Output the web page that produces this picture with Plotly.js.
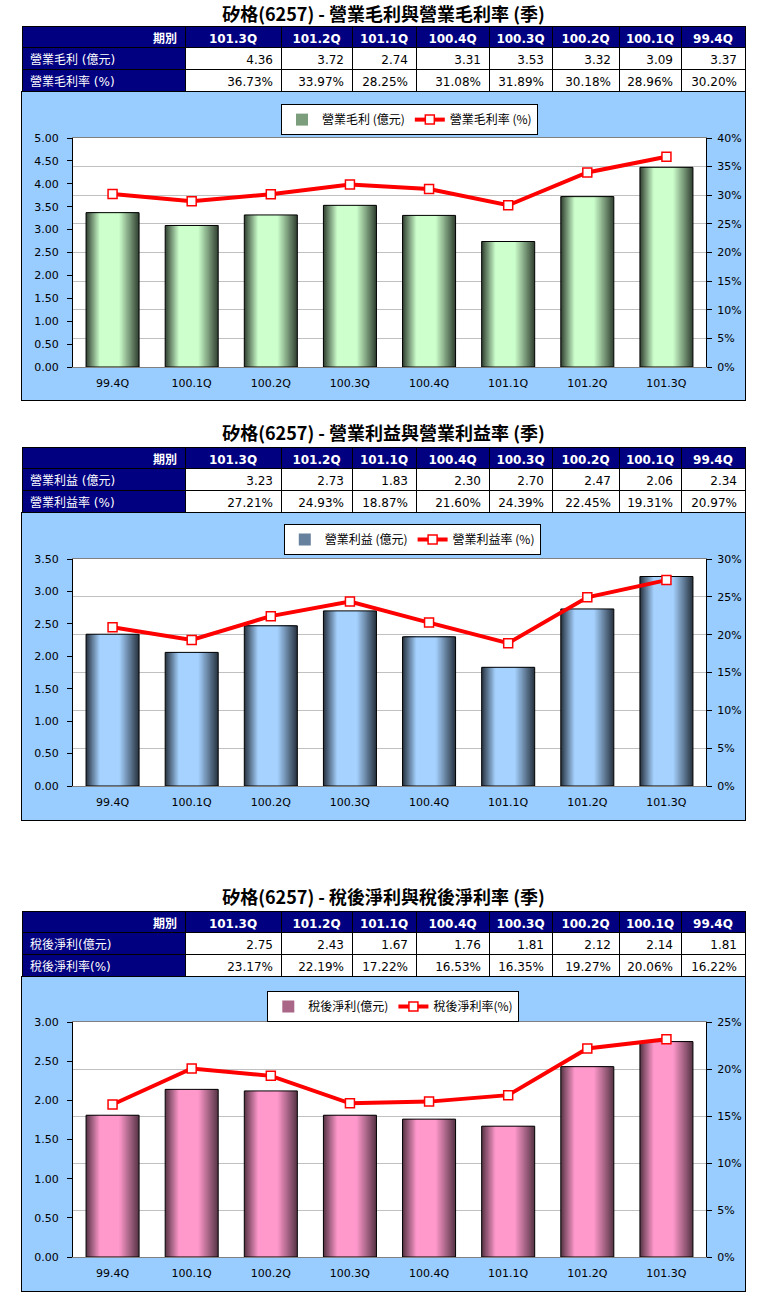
<!DOCTYPE html>
<html><head><meta charset="utf-8">
<script src="https://cdn.plot.ly/plotly-3.0.1.min.js"></script>
<style>
body{margin:0;background:#fff;width:766px;height:1308px;position:relative;overflow:hidden}
.box{position:absolute;left:21px;width:725px;border:1px solid #000;box-sizing:border-box;background:#99CCFF}
.tbl{position:absolute;left:0;width:766px}
</style></head><body>
<div id="t1" class="tbl" style="top:0px;height:92px"></div>
<div class="box" style="top:91px;height:310px"><div id="c1" style="width:723px;height:308px"></div></div>
<div id="t2" class="tbl" style="top:406px;height:107px"></div>
<div class="box" style="top:512px;height:309px"><div id="c2" style="width:723px;height:307px"></div></div>
<div id="t3" class="tbl" style="top:870px;height:107px"></div>
<div class="box" style="top:976px;height:316px"><div id="c3" style="width:723px;height:314px"></div></div>
<script>
// ---- data (table order: newest first) ----
const stockName = '矽格(6257)';
const quarters = ['101.3Q','101.2Q','101.1Q','100.4Q','100.3Q','100.2Q','100.1Q','99.4Q'];
const headerLabel = '期別';

const grossProfit = [4.36, 3.72, 2.74, 3.31, 3.53, 3.32, 3.09, 3.37];
const grossMargin = [36.73, 33.97, 28.25, 31.08, 31.89, 30.18, 28.96, 30.20];

const opIncome = [3.23, 2.73, 1.83, 2.30, 2.70, 2.47, 2.06, 2.34];
const opMargin = [27.21, 24.93, 18.87, 21.60, 24.39, 22.45, 19.31, 20.97];

const netIncome = [2.75, 2.43, 1.67, 1.76, 1.81, 2.12, 2.14, 1.81];
const netMargin = [23.17, 22.19, 17.22, 16.53, 16.35, 19.27, 20.06, 16.22];

const titles = ['營業毛利與營業毛利率 (季)', '營業利益與營業利益率 (季)', '稅後淨利與稅後淨利率 (季)'];
const valueLabels = ['營業毛利 (億元)', '營業利益 (億元)', '稅後淨利(億元)'];
const rateLabels = ['營業毛利率 (%)', '營業利益率 (%)', '稅後淨利率(%)'];

const FONT = 'DejaVu Sans, Noto Sans CJK TC, sans-serif';
const CJK = 'Noto Sans CJK TC, DejaVu Sans, sans-serif';

function hex2rgb(h){h=h.replace('#','');return [0,2,4].map(i=>parseInt(h.substr(i,2),16));}
function mix(a,b,t){const A=hex2rgb(a),B=hex2rgb(b);return 'rgb('+A.map((v,i)=>Math.round(v+(B[i]-v)*t)).join(',')+')';}

function drawTable(id, title, l1, l2, vals, rates, H, T, titleY){
  const header = [headerLabel].concat(quarters);
  const cols = [[l1, l2]];
  for(let i=0;i<quarters.length;i++) cols.push([vals[i].toFixed(2), rates[i].toFixed(2)+'%']);
  Plotly.newPlot(id, [{
    type:'table',
    columnwidth:[163,96,71,64,73,63,67,62,64],
    header:{values:header, height:21, fill:{color:'#000080'}, line:{color:'#000',width:1},
      align:['right','center'], font:{family:FONT, size:12, color:'#fff', weight:'bold'}},
    cells:{values:cols, height:22, fill:{color:['#000080','#fff']}, line:{color:'#000',width:1},
      align:['left','right'], font:{family:FONT, size:12, color:['#fff','#000']}}
  }], {
    width:766, height:H, margin:{l:22,r:21,t:T,b:0},
    paper_bgcolor:'rgba(0,0,0,0)',
    title:{text:stockName+' - '+title, font:{family:CJK, size:18, color:'#000', weight:'bold'},
      x:0.5, xanchor:'center', xref:'paper', y:1-titleY/H, yref:'container', yanchor:'middle'}
  }, {staticPlot:true});
}

function drawChart(id, opt){
  const x = quarters.slice().reverse();
  const yv = opt.vals.slice().reverse();
  const yr = opt.rates.slice().reverse();
  const traces = [];
  const N = 22, w0 = 0.67, legendIdx = 8;
  for(let k=0;k<N;k++){
    const r = 1 - (k/N)*0.82;
    const t = Math.min(1, (1-r)/0.62);
    const w = w0*r;
    const shift = (1-r)*0.09*w0;
    traces.push({type:'bar', x:x, y:yv, width:w, offset:-w/2-shift, name:opt.l1,
      marker:{color:mix(opt.dark, opt.light, t), line:{width:0}},
      showlegend:k===legendIdx, hoverinfo:'skip'});
  }
  traces.push({type:'bar', x:x, y:yv, width:w0, showlegend:false, hoverinfo:'skip',
    marker:{color:'rgba(0,0,0,0)', line:{color:'#000', width:1}}});
  traces.push({type:'scatter', mode:'lines+markers', x:x, y:yr, yaxis:'y2', name:opt.l2,
    line:{color:'#FF0000', width:4},
    marker:{symbol:'square', size:9, color:'#fff', line:{color:'#FF0000', width:1.5}}});
  const tf = {family:FONT, size:11, color:'#000'};
  Plotly.newPlot(id, traces, {
    width:723, height:opt.h, margin:{l:51, r:39, t:opt.t, b:opt.b},
    paper_bgcolor:'#99CCFF', plot_bgcolor:'#fff',
    barmode:'overlay',
    showlegend:true,
    legend:{orientation:'h', x:opt.lx, xanchor:'center', y:opt.ly, yanchor:'top',
      bgcolor:'#fff', bordercolor:'#000', borderwidth:1, font:{family:CJK, size:12, color:'#000'},
      itemwidth:30, traceorder:'normal'},
    xaxis:{type:'category', showline:true, linecolor:'#808080', linewidth:1, mirror:true,
      ticks:'', tickfont:tf, ticklabelstandoff:6, showgrid:false, zeroline:false},
    yaxis:{range:[0,opt.ymax], dtick:0.5, tickformat:'.2f', showgrid:false, zeroline:false,
      showline:true, linecolor:'#000', linewidth:1, ticks:'outside', ticklen:5, tickcolor:'#000',
      tickfont:tf, ticklabelstandoff:6},
    yaxis2:{overlaying:'y', side:'right', range:[0,opt.rmax], dtick:5, ticksuffix:'%',
      showgrid:true, gridcolor:'#C0C0C0', gridwidth:1, zeroline:false,
      showline:true, linecolor:'#000', linewidth:1, ticks:'outside', ticklen:5, tickcolor:'#000',
      tickfont:tf, ticklabelstandoff:3}
  }, {staticPlot:true});
}

drawTable('t1', titles[0], valueLabels[0], rateLabels[0], grossProfit, grossMargin, 92, 26, 14.5);
drawTable('t2', titles[1], valueLabels[1], rateLabels[1], opIncome, opMargin, 107, 41, 28);
drawTable('t3', titles[2], valueLabels[2], rateLabels[2], netIncome, netMargin, 107, 41, 28);

drawChart('c1', {vals:grossProfit, rates:grossMargin, l1:valueLabels[0], l2:rateLabels[0],
  dark:'#344434', light:'#CCFFCC', ymax:5, rmax:40, h:308, t:46, b:33, lx:0.5316, ly:1.148});
drawChart('c2', {vals:opIncome, rates:opMargin, l1:valueLabels[1], l2:rateLabels[1],
  dark:'#2A3644', light:'#A6D2FF', ymax:3.5, rmax:30, h:307, t:45, b:34, lx:0.536, ly:1.149});
drawChart('c3', {vals:netIncome, rates:netMargin, l1:valueLabels[2], l2:rateLabels[2],
  dark:'#5A3648', light:'#FF99CC', ymax:3, rmax:25, h:314, t:45, b:34, lx:0.506, ly:1.132});
</script>
</body></html>
